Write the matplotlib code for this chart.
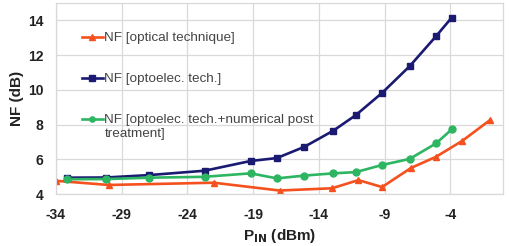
import matplotlib
matplotlib.use("Agg")
import matplotlib.pyplot as plt

# data
x_optical = [-34, -30, -22, -17, -13, -11, -9.2, -7, -5.1, -3.1, -1]
nf_optical = [4.76, 4.52, 4.65, 4.2, 4.33, 4.8, 4.4, 5.5, 6.14, 7.06, 8.25]

x_opto = [-33.2, -30.2, -26.9, -22.7, -19.2, -17.2, -15.1, -12.9, -11.2, -9.2, -7.1, -5.1, -3.9]
nf_opto = [4.94, 4.95, 5.09, 5.34, 5.9, 6.07, 6.72, 7.65, 8.54, 9.82, 11.36, 13.08, 14.16]
nf_post = [4.85, 4.86, 4.94, 4.99, 5.19, 4.9, 5.06, 5.19, 5.26, 5.67, 6.02, 6.91, 7.72]

x_ticks = [-34, -29, -24, -19, -14, -9, -4]
y_ticks = [4, 6, 8, 10, 12, 14]

labels = ["NF [optical technique]",
          "NF [optoelec. tech.]",
          "NF [optoelec. tech.+numerical post\ntreatment]"]
colors = ["#F4511E", "#1A1A72", "#2DB562"]

plt.rcParams['font.family'] = ['Liberation Sans', 'DejaVu Sans']

fig = plt.figure(figsize=(5.1, 2.46), dpi=100)
ax = fig.add_axes([56 / 510, 1 - 194 / 246, 447 / 510, 191 / 246])

ax.plot(x_optical, nf_optical, color=colors[0], marker="^", markersize=5,
        linewidth=1.9, label=labels[0])
ax.plot(x_opto, nf_opto, color=colors[1], marker="s", markersize=5,
        linewidth=1.9, label=labels[1])
ax.plot(x_opto, nf_post, color=colors[2], marker="o", markersize=5,
        linewidth=1.9, label=labels[2])

ax.set_xlim(-34, 0)
ax.set_ylim(4, 15)
ax.set_xticks(x_ticks)
ax.set_yticks(y_ticks)
ax.set_xticklabels([str(v) for v in x_ticks], fontsize=10, fontweight="bold", color="#222222")
ax.set_yticklabels([str(v) for v in y_ticks], fontsize=10, fontweight="bold", color="#222222")
ax.tick_params(axis="x", length=0, pad=10)
ax.tick_params(axis="y", length=0, pad=9)
ax.grid(True, color="#D9D9D9", linewidth=0.9)
ax.set_axisbelow(True)
for s in ax.spines.values():
    s.set_color("#D9D9D9")
    s.set_linewidth(0.9)

ax.set_ylabel("NF (dB)", fontsize=11, fontweight="bold", color="#222222", labelpad=3)
ax.set_xlabel(r"P$_{\mathbf{IN}}$ (dBm)", fontsize=11, fontweight="bold", color="#222222", labelpad=4)

leg = ax.legend(loc="upper left", bbox_to_anchor=(0.045, 0.875), frameon=False,
                fontsize=9.7, handlelength=1.6, handletextpad=0.1,
                labelspacing=2.15, borderaxespad=0, markerscale=0.75)
for t in leg.get_texts():
    t.set_color("#444444")
    t.set_linespacing(1.2)
# keep the marker level with the first text line, as in the original
for col in leg._legend_handle_box.get_children():
    for row in col.get_children():
        row.align = "top"

fig.savefig("out.png", dpi=100)
